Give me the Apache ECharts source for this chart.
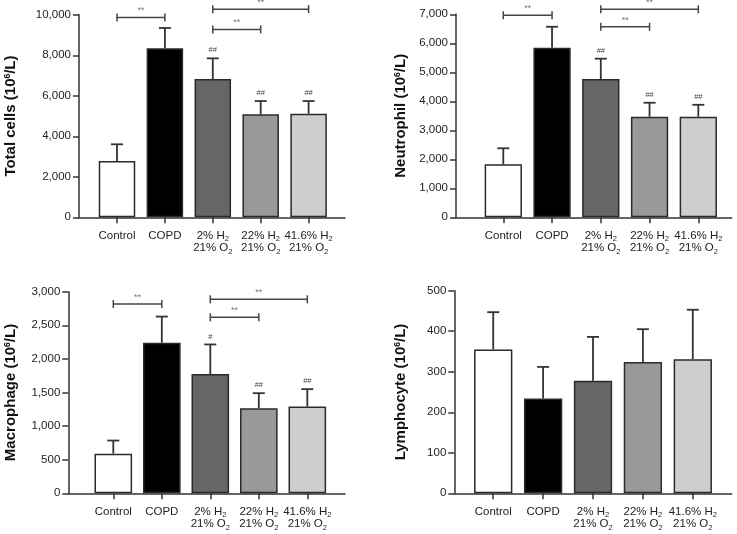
<!DOCTYPE html>
<html>
<head>
<meta charset="utf-8">
<script src="https://cdn.jsdelivr.net/npm/echarts@6/dist/echarts.min.js"></script>
<style>
html,body{margin:0;padding:0;background:#fff;}
#chart{width:737px;height:534px;}
</style>
</head>
<body>
<div id="chart"></div>
<script>
// ---- data ----
const categories = ['Control', 'COPD', '2% H₂\n21% O₂', '22% H₂\n21% O₂', '41.6% H₂\n21% O₂'];
const barColors = ['#ffffff', '#000000', '#666666', '#999999', '#cecece'];

const totalMean = [2780, 8345, 6830, 5085, 5115];
const totalSD = [825, 1005, 1020, 655, 625];
const totalBrackets = [[0, 1, 9870], [2, 4, 10280], [2, 3, 9280]];
const totalMarks = ['', '', '##', '##', '##'];

const neutroMean = [1830, 5850, 4770, 3470, 3470];
const neutroSD = [550, 720, 700, 480, 410];
const neutroBrackets = [[0, 1, 6965], [2, 4, 7170], [2, 3, 6570]];
const neutroMarks = ['', '', '##', '##', '##'];

const macroMean = [590, 2240, 1775, 1265, 1290];
const macroSD = [195, 390, 440, 225, 260];
const macroBrackets = [[0, 1, 2817], [2, 4, 2887], [2, 3, 2619]];
const macroMarks = ['', '', '#', '##', '##'];

const lymphoMean = [355, 234, 278, 324, 331];
const lymphoSD = [92, 78, 108, 81, 122];
const lymphoBrackets = [];
const lymphoMarks = ['', '', '', '', ''];

const yTitles = ['Total cells', 'Neutrophil', 'Macrophage', 'Lymphocyte'];
const yMax = [10000, 7000, 3000, 500];
const yInterval = [2000, 1000, 500, 100];

// ---- layout ----
const FONT = '"Liberation Sans", Arial, Helvetica, sans-serif';
const panels = [
  {mean: totalMean, sd: totalSD, br: totalBrackets, mk: totalMarks,
   grid: {left: 79, right: 392, top: 14.8, bottom: 316.7}, xmin: -0.793, xmax: 4.76, nameGap: 61, bw: 36.5},
  {mean: neutroMean, sd: neutroSD, br: neutroBrackets, mk: neutroMarks,
   grid: {left: 456, right: 5.3, top: 14.3, bottom: 316.7}, xmin: -0.97, xmax: 4.685, nameGap: 48, bw: 37.3},
  {mean: macroMean, sd: macroSD, br: macroBrackets, mk: macroMarks,
   grid: {left: 68.3, right: 392, top: 291.7, bottom: 40.7}, xmin: -0.928, xmax: 4.777, nameGap: 50, bw: 37.6},
  {mean: lymphoMean, sd: lymphoSD, br: lymphoBrackets, mk: lymphoMarks,
   grid: {left: 454.3, right: 5.3, top: 290.7, bottom: 40.7}, xmin: -0.78, xmax: 4.78, nameGap: 46, bw: 38.3}
];

function fmtNum(v) {
  return String(v).replace(/\B(?=(\d{3})+(?!\d))/g, ',');
}
function catLabel(s) {
  return s.split('\n').map(line => '{n|' + line.replace(/₂/g, '}{s|2}{n|') + '}').join('\n');
}

const axisColor = '#333333';
const grids = [], xAxes = [], yAxes = [], series = [];

panels.forEach((p, k) => {
  grids.push(Object.assign({containLabel: false}, p.grid));
  xAxes.push({
    type: 'value', gridIndex: k, min: p.xmin, max: p.xmax,
    splitLine: {show: false},
    axisLine: {show: true, onZero: false, lineStyle: {color: axisColor, width: 1.5}},
    axisTick: {show: true, customValues: [0, 1, 2, 3, 4], length: 6, lineStyle: {color: axisColor, width: 1.5}},
    axisLabel: {
      customValues: [0, 1, 2, 3, 4], margin: 12,
      formatter: v => catLabel(categories[Math.round(v)]),
      rich: {
        n: {fontSize: 11.5, fontFamily: FONT, color: '#222', lineHeight: 12.6},
        s: {fontSize: 7.5, fontFamily: FONT, color: '#222', lineHeight: 12.6, padding: [7, 0, 0, 0]}
      }
    }
  });
  yAxes.push({
    type: 'value', gridIndex: k, min: 0, max: yMax[k], interval: yInterval[k],
    splitLine: {show: false},
    axisLine: {show: true, onZero: false, lineStyle: {color: axisColor, width: 1.5}},
    axisTick: {show: true, length: 6, lineStyle: {color: axisColor, width: 1.5}},
    axisLabel: {formatter: v => fmtNum(v), fontSize: 11.5, fontFamily: FONT, color: '#222', margin: 8},
    name: '{t|' + yTitles[k] + ' (10}{u|6}{t|/L)}',
    nameLocation: 'middle', nameGap: p.nameGap,
    nameTextStyle: {
      rich: {
        t: {fontSize: 15, fontWeight: 'bold', fontFamily: FONT, color: '#111'},
        u: {fontSize: 8.5, fontWeight: 'bold', fontFamily: FONT, color: '#111', padding: [0, 0, 6, 0]}
      }
    }
  });
  series.push({
    type: 'bar', xAxisIndex: k, yAxisIndex: k, barWidth: p.bw,
    data: p.mean.map((m, i) => ({
      value: [i, m],
      itemStyle: {color: barColors[i], borderColor: '#2a2a2a', borderWidth: 1.5}
    })),
    z: 2
  });
  series.push({
    type: 'custom', xAxisIndex: k, yAxisIndex: k, clip: false, z: 3,
    encode: {x: 0, y: [1, 2]},
    data: p.mean.map((m, i) => [i, m, m + p.sd[i], p.mk[i]]),
    renderItem: (params, api) => {
      const x = api.value(0);
      const a = api.coord([x, api.value(1)]);
      const b = api.coord([x, api.value(2)]);
      const st = {stroke: '#333', lineWidth: 1.8};
      const ch = [
        {type: 'line', shape: {x1: a[0], y1: a[1], x2: b[0], y2: b[1]}, style: st},
        {type: 'line', shape: {x1: b[0] - 6, y1: b[1], x2: b[0] + 6, y2: b[1]}, style: st}
      ];
      const mk = p.mk[params.dataIndex];
      if (mk) {
        ch.push({type: 'text', x: b[0], y: b[1] - 4,
          style: {text: mk, fontSize: 7.5, fontFamily: FONT, fill: '#444', align: 'center', verticalAlign: 'bottom'}});
      }
      return {type: 'group', children: ch};
    }
  });
  if (p.br.length) {
    series.push({
      type: 'custom', xAxisIndex: k, yAxisIndex: k, clip: false, z: 4,
      encode: {x: [0, 1], y: 2},
      data: p.br,
      renderItem: (params, api) => {
        const y = api.value(2);
        const a = api.coord([api.value(0), y]);
        const b = api.coord([api.value(1), y]);
        const st = {stroke: '#444', lineWidth: 1.5};
        return {type: 'group', children: [
          {type: 'line', shape: {x1: a[0], y1: a[1], x2: b[0], y2: b[1]}, style: st},
          {type: 'line', shape: {x1: a[0], y1: a[1] - 4, x2: a[0], y2: a[1] + 4}, style: st},
          {type: 'line', shape: {x1: b[0], y1: b[1] - 4, x2: b[0], y2: b[1] + 4}, style: st},
          {type: 'text', x: (a[0] + b[0]) / 2, y: a[1] - 2,
            style: {text: '**', fontSize: 9, fontFamily: FONT, fill: '#777', align: 'center', verticalAlign: 'bottom'}}
        ]};
      }
    });
  }
});

const chart = echarts.init(document.getElementById('chart'), null, {renderer: 'canvas'});
chart.setOption({
  animation: false,
  backgroundColor: '#ffffff',
  grid: grids, xAxis: xAxes, yAxis: yAxes, series: series
});
</script>
</body>
</html>
